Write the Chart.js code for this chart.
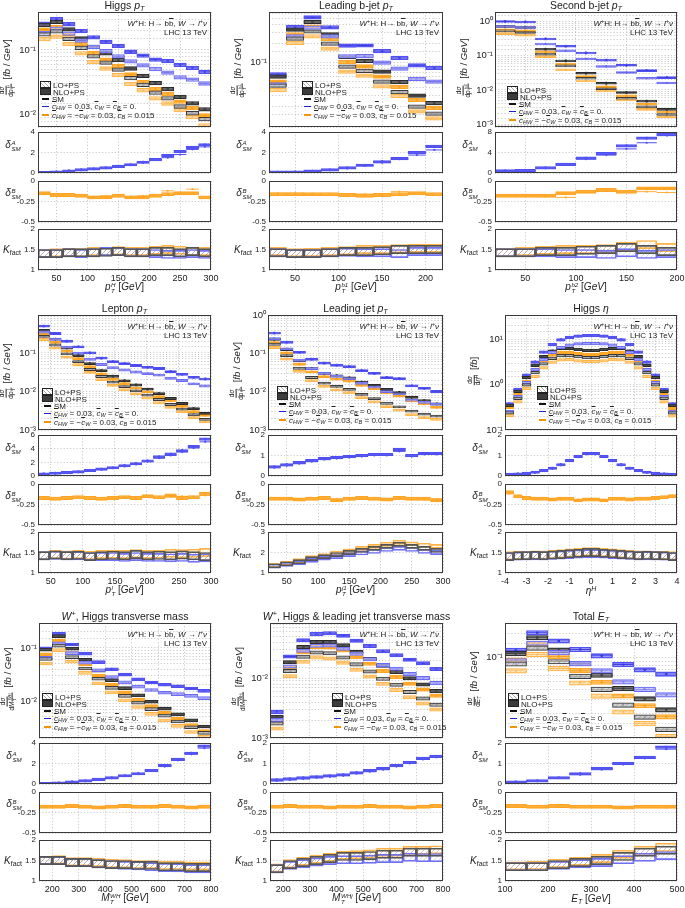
<!DOCTYPE html>
<html>
<head>
<meta charset="utf-8">
<script src="https://cdn.jsdelivr.net/npm/chart.js@4.4.1/dist/chart.umd.min.js"></script>
<style>
  body { margin: 0; background: #fff; width: 685px; height: 908px; position: relative; overflow: hidden;
         font-family: "Liberation Sans", Arial, sans-serif; color: #222; }
  canvas { position: absolute; }
  .t { position: absolute; white-space: nowrap; line-height: 1; }
  .title { font-size: 10.5px; }
  .xt { font-size: 10px; }
  .yt { font-size: 9.5px; }
  .ann { font-size: 8px; text-align: right; line-height: 8.6px; }
  .rl { font-size: 10px; }
  sub { font-size: 0.7em; vertical-align: -0.25em; line-height: 0; }
  sup { font-size: 0.7em; vertical-align: 0.45em; line-height: 0; }
  .ss { display: inline-block; font-size: 0.62em; line-height: 1; vertical-align: -0.45em; text-align: left; margin-left: 0.5px; }
  .ss span { display: block; }
  .ol { text-decoration: overline; font-style: italic; }
  .fr { display: inline-flex; flex-direction: column; align-items: center; font-size: 0.68em; vertical-align: middle; margin-right: 2px; line-height: 1.05; }
  .fr span:first-child { border-bottom: 0.7px solid #222; padding: 0 1px; }
  .lg { font-size: 8px; }
  .lg div { height: 7.4px; line-height: 7.4px; }
  .lg div.tall { height: 8.6px; line-height: 8.6px; }
  .sw { display: inline-block; width: 9px; height: 5px; margin-right: 2px; vertical-align: -0.5px; border: 1px solid #222; }
  .sw.lo { background: repeating-linear-gradient(45deg, #aaa 0 0.7px, #fff 0.7px 2.6px); }
  .sw.nlo { background: #3c3c3c; }
  .dash { display: inline-block; width: 7px; height: 1.6px; margin: 0 3px 0 2px; vertical-align: 2px; }
</style>
</head>
<body>
<script>
// ---- Higgs pT ----
const hpt_edges = [20, 40, 60, 80, 100, 120, 140, 160, 180, 200, 220, 240, 260, 280, 300];
const hpt_xticks = [50, 100, 150, 200, 250, 300];
const hpt_smNLO = [0.243, 0.272, 0.208, 0.151, 0.112, 0.089, 0.070, 0.052, 0.040, 0.031, 0.025, 0.019, 0.0151, 0.0122];
const hpt_smLO = [0.174, 0.194, 0.149, 0.108, 0.080, 0.064, 0.050, 0.037, 0.029, 0.022, 0.018, 0.0135, 0.0106, 0.0086];
const hpt_aNLO = [0.255, 0.299, 0.250, 0.196, 0.157, 0.134, 0.116, 0.094, 0.082, 0.071, 0.0675, 0.059, 0.053, 0.046];
const hpt_aLO = [0.183, 0.213, 0.179, 0.140, 0.112, 0.096, 0.080, 0.067, 0.058, 0.051, 0.045, 0.038, 0.035, 0.0305];
const hpt_bNLO = [0.207, 0.226, 0.173, 0.124, 0.090, 0.071, 0.057, 0.042, 0.032, 0.025, 0.021, 0.016, 0.0127, 0.0098];
const hpt_bLO = [0.148, 0.161, 0.124, 0.089, 0.065, 0.052, 0.041, 0.030, 0.024, 0.018, 0.015, 0.0119, 0.0093, 0.0069];
const hpt_dA_NLO = [0.05, 0.1, 0.2, 0.3, 0.4, 0.5, 0.65, 0.8, 1.05, 1.3, 1.7, 2.1, 2.5, 2.75];
const hpt_dA_LO = [0.05, 0.1, 0.2, 0.3, 0.4, 0.5, 0.6, 0.8, 1.0, 1.3, 1.5, 1.8, 2.3, 2.55];
const hpt_dAticks = [0, 2, 4];
const hpt_dB_NLO = [-0.15, -0.17, -0.17, -0.18, -0.2, -0.2, -0.18, -0.2, -0.2, -0.18, -0.16, -0.15, -0.15, -0.2];
const hpt_dB_LO = [-0.15, -0.17, -0.17, -0.18, -0.19, -0.18, -0.18, -0.19, -0.18, -0.17, -0.12, -0.14, -0.1, -0.2];
const hpt_kSM = [1.4, 1.4, 1.42, 1.42, 1.42, 1.43, 1.45, 1.42, 1.42, 1.45, 1.45, 1.42, 1.45, 1.42];
const hpt_kA = [1.4, 1.4, 1.42, 1.4, 1.42, 1.45, 1.45, 1.42, 1.42, 1.4, 1.38, 1.38, 1.4, 1.38];
const hpt_kB = [1.4, 1.42, 1.43, 1.42, 1.45, 1.45, 1.47, 1.45, 1.45, 1.48, 1.5, 1.48, 1.45, 1.45];

// ---- Leading b-jet pT ----
const b1_edges = [20, 40, 60, 80, 100, 120, 140, 160, 180, 200, 220];
const b1_xticks = [50, 100, 150, 200];
const b1_smNLO = [0.060, 0.333, 0.439, 0.278, 0.123, 0.106, 0.072, 0.049, 0.030, 0.0228];
const b1_smLO = [0.043, 0.24, 0.31, 0.2, 0.086, 0.074, 0.05, 0.034, 0.020, 0.0155];
const b1_aNLO = [0.065, 0.366, 0.518, 0.361, 0.185, 0.186, 0.151, 0.118, 0.090, 0.082];
const b1_aLO = [0.045, 0.259, 0.357, 0.26, 0.125, 0.126, 0.10, 0.080, 0.055, 0.050];
const b1_bNLO = [0.050, 0.28, 0.369, 0.234, 0.102, 0.087, 0.060, 0.041, 0.0255, 0.0192];
const b1_bLO = [0.0366, 0.204, 0.26, 0.166, 0.072, 0.062, 0.042, 0.0296, 0.0168, 0.013];
const b1_dA_NLO = [0.08, 0.1, 0.18, 0.3, 0.5, 0.75, 1.1, 1.4, 2.0, 2.6];
const b1_dA_LO = [0.05, 0.08, 0.15, 0.3, 0.45, 0.7, 1.0, 1.35, 1.75, 2.25];
const b1_dAticks = [0, 2, 4];
const b1_dB_NLO = [-0.16, -0.16, -0.16, -0.16, -0.17, -0.18, -0.17, -0.16, -0.15, -0.16];
const b1_dB_LO = [-0.15, -0.15, -0.16, -0.17, -0.16, -0.16, -0.16, -0.13, -0.16, -0.16];
const b1_kSM = [1.42, 1.4, 1.4, 1.42, 1.45, 1.45, 1.47, 1.5, 1.5, 1.5];
const b1_kA = [1.42, 1.4, 1.4, 1.42, 1.43, 1.42, 1.42, 1.4, 1.45, 1.45];
const b1_kB = [1.45, 1.42, 1.43, 1.45, 1.47, 1.5, 1.5, 1.52, 1.53, 1.53];

// ---- Second b-jet pT ----
const b2_edges = [20, 40, 60, 80, 100, 120, 140, 160, 180, 200];
const b2_xticks = [50, 100, 150, 200];
const b2_smNLO = [0.73, 0.68, 0.157, 0.071, 0.031, 0.0157, 0.0084, 0.0047, 0.0027];
const b2_smLO = [0.54, 0.485, 0.112, 0.051, 0.022, 0.0109, 0.0057, 0.0032, 0.00192];
const b2_aNLO = [1.02, 0.99, 0.314, 0.192, 0.121, 0.075, 0.053, 0.037, 0.023];
const b2_aLO = [0.73, 0.68, 0.224, 0.14, 0.081, 0.049, 0.0325, 0.022, 0.016];
const b2_bNLO = [0.58, 0.54, 0.131, 0.057, 0.0247, 0.0125, 0.0067, 0.0038, 0.00225];
const b2_bLO = [0.45, 0.405, 0.095, 0.039, 0.0184, 0.0094, 0.0051, 0.0027, 0.00164];
const b2_dA_NLO = [0.4, 0.45, 1.0, 1.7, 2.9, 3.8, 5.3, 6.8, 7.5];
const b2_dA_LO = [0.35, 0.4, 1.0, 1.75, 2.7, 3.5, 4.7, 5.9, 7.3];
const b2_dAticks = [0, 4, 8];
const b2_dB_NLO = [-0.18, -0.18, -0.18, -0.15, -0.13, -0.11, -0.13, -0.09, -0.09];
const b2_dB_LO = [-0.18, -0.18, -0.19, -0.2, -0.13, -0.12, -0.13, -0.13, -0.14];
const b2_kSM = [1.42, 1.42, 1.45, 1.45, 1.48, 1.5, 1.55, 1.5, 1.45];
const b2_kA = [1.42, 1.42, 1.42, 1.4, 1.4, 1.38, 1.42, 1.38, 1.4];
const b2_kB = [1.42, 1.45, 1.48, 1.5, 1.5, 1.52, 1.58, 1.62, 1.55];

// ---- Lepton pT ----
const lpt_edges = [30, 48, 66, 84, 102, 120, 138, 156, 174, 192, 210, 228, 246, 264, 282, 300];
const lpt_xticks = [50, 100, 150, 200, 250, 300];
const lpt_smNLO = [0.385, 0.23, 0.135, 0.085, 0.053, 0.035, 0.025, 0.019, 0.0148, 0.0115, 0.0088, 0.0066, 0.0049, 0.0036, 0.0027];
const lpt_smLO = [0.271, 0.162, 0.095, 0.060, 0.0373, 0.0246, 0.0176, 0.0134, 0.0104, 0.0081, 0.0062, 0.0046, 0.0035, 0.0025, 0.0019];
const lpt_aNLO = [0.50, 0.322, 0.2025, 0.1445, 0.1007, 0.0735, 0.060, 0.0532, 0.0474, 0.0426, 0.0396, 0.033, 0.0279, 0.0234, 0.0211];
const lpt_aLO = [0.352, 0.227, 0.1425, 0.099, 0.069, 0.0504, 0.0414, 0.0362, 0.0322, 0.0292, 0.0267, 0.0221, 0.0193, 0.0158, 0.0139];
const lpt_bNLO = [0.32, 0.189, 0.112, 0.0714, 0.044, 0.0287, 0.0208, 0.016, 0.0123, 0.0098, 0.0074, 0.0057, 0.0041, 0.003, 0.0024];
const lpt_bLO = [0.225, 0.134, 0.078, 0.0498, 0.0313, 0.0204, 0.0144, 0.0111, 0.0087, 0.0068, 0.0051, 0.0039, 0.003, 0.0021, 0.00163];
const lpt_dA_NLO = [0.3, 0.4, 0.5, 0.6, 0.8, 1.0, 1.2, 1.5, 1.8, 2.2, 2.8, 3.2, 3.7, 4.3, 5.4];
const lpt_dA_LO = [0.3, 0.4, 0.5, 0.6, 0.75, 0.95, 1.15, 1.4, 1.7, 2.1, 2.6, 3.0, 3.5, 4.1, 5.0];
const lpt_dAticks = [0, 2, 4, 6];
const lpt_dB_NLO = [-0.17, -0.18, -0.17, -0.16, -0.17, -0.18, -0.17, -0.16, -0.17, -0.15, -0.16, -0.14, -0.17, -0.16, -0.12];
const lpt_dB_LO = [-0.17, -0.17, -0.18, -0.17, -0.16, -0.17, -0.18, -0.17, -0.16, -0.16, -0.17, -0.16, -0.15, -0.17, -0.14];
const lpt_kSM = [1.42, 1.44, 1.42, 1.43, 1.4, 1.42, 1.43, 1.42, 1.45, 1.42, 1.43, 1.42, 1.44, 1.42, 1.4];
const lpt_kA = [1.42, 1.43, 1.42, 1.42, 1.4, 1.4, 1.4, 1.38, 1.4, 1.38, 1.38, 1.37, 1.38, 1.36, 1.37];
const lpt_kB = [1.42, 1.45, 1.44, 1.45, 1.43, 1.45, 1.46, 1.45, 1.47, 1.45, 1.46, 1.48, 1.47, 1.48, 1.5];

// ---- Leading jet pT ----
const j1_edges = [20, 40, 60, 80, 100, 120, 140, 160, 180, 200, 220, 240, 260, 280, 300];
const j1_xticks = [50, 100, 150, 200, 250, 300];
const j1_smNLO = [0.233, 0.126, 0.064, 0.040, 0.030, 0.026, 0.023, 0.0178, 0.0146, 0.0114, 0.0095, 0.0071, 0.0058, 0.0048];
const j1_smLO = [0.173, 0.087, 0.041, 0.0235, 0.0167, 0.0137, 0.0115, 0.0085, 0.0066, 0.005, 0.004, 0.0031, 0.0026, 0.0023];
const j1_aNLO = [0.338, 0.195, 0.106, 0.070, 0.0555, 0.049, 0.045, 0.0356, 0.030, 0.0234, 0.0219, 0.0142, 0.0122, 0.0101];
const j1_aLO = [0.242, 0.131, 0.066, 0.040, 0.030, 0.0253, 0.0219, 0.0166, 0.0132, 0.010, 0.0088, 0.006, 0.0053, 0.0047];
const j1_bNLO = [0.191, 0.103, 0.052, 0.033, 0.0246, 0.0213, 0.0189, 0.0146, 0.012, 0.0093, 0.0078, 0.0058, 0.0048, 0.0039];
const j1_bLO = [0.142, 0.071, 0.034, 0.0193, 0.0137, 0.0112, 0.0094, 0.007, 0.0054, 0.0041, 0.0033, 0.0025, 0.0021, 0.0019];
const j1_dA_NLO = [0.45, 0.55, 0.65, 0.75, 0.85, 0.9, 0.95, 1.0, 1.05, 1.05, 1.3, 1.0, 1.1, 1.1];
const j1_dA_LO = [0.4, 0.5, 0.6, 0.7, 0.8, 0.85, 0.9, 0.95, 1.0, 1.0, 1.2, 0.95, 1.05, 1.05];
const j1_dAticks = [0, 1, 2];
const j1_dB_NLO = [-0.18, -0.18, -0.19, -0.18, -0.17, -0.2, -0.18, -0.17, -0.18, -0.19, -0.17, -0.18, -0.18, -0.2];
const j1_dB_LO = [-0.17, -0.18, -0.18, -0.17, -0.18, -0.18, -0.19, -0.18, -0.17, -0.18, -0.18, -0.17, -0.19, -0.18];
const j1_kSM = [1.35, 1.45, 1.55, 1.7, 1.8, 1.9, 2.0, 2.1, 2.2, 2.3, 2.4, 2.3, 2.2, 2.1];
const j1_kA = [1.33, 1.42, 1.5, 1.62, 1.72, 1.8, 1.9, 1.98, 2.05, 2.15, 2.2, 2.15, 2.05, 2.0];
const j1_kB = [1.37, 1.48, 1.6, 1.75, 1.85, 1.97, 2.08, 2.2, 2.3, 2.4, 2.5, 2.42, 2.35, 2.3];
const j1_kticks = [1, 2, 3];

// ---- Higgs eta ----
const eta_edges = [-4, -3.6, -3.2, -2.8, -2.4, -2, -1.6, -1.2, -0.8, -0.4, 0, 0.4, 0.8, 1.2, 1.6, 2, 2.4, 2.8, 3.2, 3.6, 4];
const eta_xticks = [-4, -3, -2, -1, 0, 1, 2, 3, 4];
const eta_smNLO = [0.35, 0.72, 1.45, 2.7, 4.2, 5.6, 6.4, 6.4, 6.1, 5.8, 5.8, 6.1, 6.4, 6.4, 5.6, 4.2, 2.7, 1.45, 0.72, 0.35];
const eta_smLO = [0.24, 0.5, 1.0, 1.86, 2.9, 3.86, 4.41, 4.41, 4.2, 4.0, 4.0, 4.2, 4.41, 4.41, 3.86, 2.9, 1.86, 1.0, 0.5, 0.24];
const eta_aNLO = [0.378, 0.792, 1.64, 3.19, 5.29, 7.73, 9.92, 11.2, 11.9, 12.2, 12.2, 11.9, 11.2, 9.92, 7.73, 5.29, 3.19, 1.64, 0.792, 0.378];
const eta_aLO = [0.259, 0.55, 1.12, 2.18, 3.63, 5.25, 6.7, 7.59, 8.06, 8.2, 8.2, 8.06, 7.59, 6.7, 5.25, 3.63, 2.18, 1.12, 0.55, 0.259];
const eta_bNLO = [0.315, 0.612, 1.2, 2.21, 3.44, 4.54, 5.25, 5.25, 4.88, 4.7, 4.7, 4.88, 5.25, 5.25, 4.54, 3.44, 2.21, 1.2, 0.605, 0.298];
const eta_bLO = [0.211, 0.42, 0.83, 1.54, 2.38, 3.17, 3.57, 3.62, 3.4, 3.28, 3.28, 3.4, 3.62, 3.57, 3.17, 2.38, 1.54, 0.83, 0.42, 0.206];
const eta_dA_NLO = [0.08, 0.1, 0.13, 0.18, 0.26, 0.38, 0.55, 0.75, 0.95, 1.1, 1.1, 0.95, 0.75, 0.55, 0.38, 0.26, 0.18, 0.13, 0.1, 0.08];
const eta_dA_LO = [0.08, 0.1, 0.12, 0.17, 0.25, 0.36, 0.52, 0.72, 0.92, 1.05, 1.05, 0.92, 0.72, 0.52, 0.36, 0.25, 0.17, 0.12, 0.1, 0.08];
const eta_dAticks = [0, 1, 2];
const eta_dB_NLO = [-0.1, -0.15, -0.17, -0.18, -0.18, -0.19, -0.18, -0.18, -0.2, -0.19, -0.19, -0.2, -0.18, -0.18, -0.19, -0.18, -0.18, -0.17, -0.16, -0.15];
const eta_dB_LO = [-0.12, -0.16, -0.17, -0.17, -0.18, -0.18, -0.19, -0.18, -0.19, -0.18, -0.18, -0.19, -0.18, -0.19, -0.18, -0.18, -0.17, -0.17, -0.16, -0.14];
const eta_kSM = [1.4, 1.42, 1.42, 1.43, 1.42, 1.44, 1.45, 1.47, 1.48, 1.5, 1.5, 1.48, 1.47, 1.45, 1.44, 1.42, 1.43, 1.42, 1.42, 1.4];
const eta_kA = [1.4, 1.41, 1.42, 1.42, 1.42, 1.43, 1.44, 1.45, 1.46, 1.47, 1.47, 1.46, 1.45, 1.44, 1.43, 1.42, 1.42, 1.42, 1.41, 1.4];
const eta_kB = [1.42, 1.43, 1.43, 1.44, 1.44, 1.45, 1.47, 1.49, 1.5, 1.52, 1.52, 1.5, 1.49, 1.47, 1.45, 1.44, 1.44, 1.43, 1.43, 1.42];

// ---- W+, Higgs transverse mass ----
const mwh_edges = [150, 200, 250, 300, 350, 400, 450, 500, 550, 600, 650, 700, 750, 800];
const mwh_xticks = [200, 300, 400, 500, 600, 700, 800];
const mwh_smNLO = [0.093, 0.167, 0.097, 0.060, 0.0374, 0.0248, 0.0175, 0.0128, 0.0097, 0.0072, 0.0056, 0.0043, 0.0033];
const mwh_smLO = [0.062, 0.111, 0.067, 0.041, 0.0263, 0.0177, 0.0125, 0.0093, 0.0070, 0.0053, 0.0041, 0.0032, 0.0025];
const mwh_aNLO = [0.098, 0.184, 0.116, 0.078, 0.054, 0.0397, 0.0315, 0.0256, 0.0223, 0.0202, 0.019, 0.0172, 0.0155];
const mwh_aLO = [0.065, 0.122, 0.080, 0.053, 0.038, 0.0283, 0.0225, 0.0186, 0.0161, 0.0143, 0.0135, 0.0125, 0.0113];
const mwh_bNLO = [0.076, 0.137, 0.080, 0.049, 0.0303, 0.0203, 0.0145, 0.0105, 0.008, 0.006, 0.0046, 0.0035, 0.0027];
const mwh_bLO = [0.051, 0.091, 0.055, 0.034, 0.0216, 0.0145, 0.0103, 0.0077, 0.0057, 0.0043, 0.0034, 0.0026, 0.0021];
const mwh_dA_NLO = [0.05, 0.1, 0.2, 0.3, 0.45, 0.6, 0.8, 1.0, 1.3, 1.8, 2.4, 3.0, 3.7];
const mwh_dA_LO = [0.05, 0.1, 0.2, 0.3, 0.45, 0.6, 0.8, 1.0, 1.3, 1.7, 2.3, 2.9, 3.5];
const mwh_dAticks = [0, 2, 4];
const mwh_dB_NLO = [-0.18, -0.18, -0.17, -0.18, -0.19, -0.18, -0.17, -0.18, -0.18, -0.17, -0.18, -0.19, -0.18];
const mwh_dB_LO = [-0.17, -0.18, -0.18, -0.17, -0.18, -0.18, -0.18, -0.17, -0.19, -0.18, -0.17, -0.18, -0.17];
const mwh_kSM = [1.5, 1.5, 1.45, 1.45, 1.42, 1.4, 1.4, 1.38, 1.38, 1.35, 1.35, 1.33, 1.33];
const mwh_kA = [1.5, 1.5, 1.45, 1.45, 1.42, 1.4, 1.38, 1.37, 1.35, 1.33, 1.32, 1.3, 1.3];
const mwh_kB = [1.5, 1.52, 1.47, 1.47, 1.45, 1.43, 1.42, 1.4, 1.4, 1.38, 1.38, 1.37, 1.37];

// ---- W+, Higgs & leading jet transverse mass ----
const mwhj_edges = [150, 200, 250, 300, 350, 400, 450, 500, 550, 600, 650, 700, 750, 800];
const mwhj_xticks = [200, 300, 400, 500, 600, 700, 800];
const mwhj_smNLO = [0.00228, 0.0185, 0.0333, 0.0406, 0.0406, 0.0356, 0.0274, 0.0211, 0.0162, 0.0128, 0.0100, 0.0079, 0.0061];
const mwhj_smLO = [0.00175, 0.0132, 0.023, 0.027, 0.0262, 0.0223, 0.0171, 0.013, 0.0098, 0.0078, 0.0059, 0.0046, 0.0036];
const mwhj_aNLO = [0.00274, 0.0231, 0.0433, 0.0548, 0.0568, 0.0516, 0.0425, 0.0348, 0.0284, 0.0243, 0.0205, 0.0178, 0.0143];
const mwhj_aLO = [0.00201, 0.0158, 0.0288, 0.0351, 0.0354, 0.0312, 0.0257, 0.0208, 0.0167, 0.0144, 0.0118, 0.0101, 0.0083];
const mwhj_bNLO = [0.00187, 0.0154, 0.0273, 0.0333, 0.0329, 0.0292, 0.0225, 0.0175, 0.0133, 0.0105, 0.0081, 0.0065, 0.0051];
const mwhj_bLO = [0.00145, 0.0108, 0.0189, 0.0224, 0.0215, 0.0183, 0.0139, 0.0107, 0.0081, 0.0064, 0.0048, 0.0038, 0.003];
const mwhj_dA_NLO = [0.2, 0.25, 0.3, 0.35, 0.4, 0.45, 0.55, 0.65, 0.75, 0.9, 1.05, 1.25, 1.35];
const mwhj_dA_LO = [0.15, 0.2, 0.25, 0.3, 0.35, 0.4, 0.5, 0.6, 0.7, 0.85, 1.0, 1.2, 1.3];
const mwhj_dAticks = [0, 1, 2];
const mwhj_dB_NLO = [-0.18, -0.17, -0.18, -0.18, -0.19, -0.18, -0.18, -0.17, -0.18, -0.18, -0.19, -0.18, -0.17];
const mwhj_dB_LO = [-0.17, -0.18, -0.18, -0.17, -0.18, -0.18, -0.19, -0.18, -0.17, -0.18, -0.18, -0.17, -0.18];
const mwhj_kSM = [1.3, 1.4, 1.45, 1.5, 1.55, 1.6, 1.6, 1.62, 1.65, 1.65, 1.7, 1.7, 1.7];
const mwhj_kA = [1.3, 1.38, 1.42, 1.46, 1.5, 1.52, 1.52, 1.53, 1.55, 1.55, 1.58, 1.57, 1.57];
const mwhj_kB = [1.32, 1.42, 1.48, 1.53, 1.58, 1.63, 1.64, 1.66, 1.7, 1.7, 1.75, 1.75, 1.76];

// ---- Total ET ----
const et_edges = [100, 150, 200, 250, 300, 350, 400, 450, 500];
const et_xticks = [100, 200, 300, 400, 500];
const et_smNLO = [0.112, 0.177, 0.124, 0.084, 0.060, 0.0407, 0.0304, 0.0221];
const et_smLO = [0.083, 0.131, 0.0886, 0.058, 0.040, 0.0254, 0.0179, 0.0126];
const et_aNLO = [0.123, 0.204, 0.161, 0.126, 0.105, 0.0814, 0.070, 0.062];
const et_aLO = [0.091, 0.151, 0.115, 0.084, 0.068, 0.0495, 0.040, 0.034];
const et_bNLO = [0.093, 0.145, 0.103, 0.069, 0.049, 0.033, 0.0249, 0.0181];
const et_bLO = [0.068, 0.109, 0.0727, 0.048, 0.0328, 0.0208, 0.0149, 0.0102];
const et_dA_NLO = [0.1, 0.15, 0.3, 0.5, 0.75, 1.0, 1.3, 1.8];
const et_dA_LO = [0.1, 0.15, 0.3, 0.45, 0.7, 0.95, 1.25, 1.7];
const et_dAticks = [0, 1, 2];
const et_dB_NLO = [-0.17, -0.18, -0.17, -0.18, -0.18, -0.19, -0.18, -0.18];
const et_dB_LO = [-0.18, -0.17, -0.18, -0.17, -0.18, -0.18, -0.17, -0.19];
const et_kSM = [1.35, 1.35, 1.4, 1.45, 1.5, 1.6, 1.7, 1.75];
const et_kA = [1.35, 1.35, 1.38, 1.42, 1.45, 1.52, 1.58, 1.62];
const et_kB = [1.37, 1.38, 1.43, 1.48, 1.55, 1.65, 1.75, 1.82];

const dBticks = [-0.5, -0.25, 0];
const kticks = [1, 1.5, 2];

// scale-uncertainty half widths
const UNC_MAIN = 0.065;   // relative
const UNC_DB = 0.02;
const UNC_K = 0.1;

Chart.defaults.font.family = '"Liberation Sans", Arial, sans-serif';
Chart.defaults.font.size = 9;
Chart.defaults.color = '#222';
Chart.defaults.animation = false;
Chart.defaults.plugins.legend.display = false;
Chart.defaults.plugins.tooltip.enabled = false;

/* == small text helpers == */
const ss = (sup, sub) => `<span class="ss"><span>${sup}</span><span>${sub}</span></span>`;
const cb = (s) => `<span class="ol">c</span><sub><i>${s}</i></sub>`;
const it = (s) => `<i>${s}</i>`;
const GEV = ' [<i>GeV</i>]';
const FBGEV = '[<i>fb</i> / <i>GeV</i>]';

const panels = [
  { left: 38, right: 211, top: 12, xmin: 20, xmax: 300, xticks: hpt_xticks, ymin: 0.0065, ymax: 0.385, dAticks: hpt_dAticks, dAunc: 0.12, kticks, leg: [2, 73],
    title: 'Higgs ' + it('p') + '<sub><i>T</i></sub>', xt: it('p') + ss(it('H'), it('T')) + GEV, yt: 'd' + it('p') + ss('H', 'T'), unit: FBGEV,
    e: hpt_edges, sm: [hpt_smNLO, hpt_smLO], a: [hpt_aNLO, hpt_aLO], b: [hpt_bNLO, hpt_bLO], dA: [hpt_dA_NLO, hpt_dA_LO], dB: [hpt_dB_NLO, hpt_dB_LO], k: [hpt_kSM, hpt_kA, hpt_kB] },
  { left: 269, right: 443, top: 12, xmin: 20, xmax: 220, xticks: b1_xticks, ymin: 0.0095, ymax: 0.63, dAticks: b1_dAticks, dAunc: 0.12, kticks, leg: [33, 73],
    title: 'Leading b-jet ' + it('p') + '<sub><i>T</i></sub>', xt: it('p') + ss(it('b1'), it('T')) + GEV, yt: 'd' + it('p') + ss('b1', 'T'), unit: FBGEV,
    e: b1_edges, sm: [b1_smNLO, b1_smLO], a: [b1_aNLO, b1_aLO], b: [b1_bNLO, b1_bLO], dA: [b1_dA_NLO, b1_dA_LO], dB: [b1_dB_NLO, b1_dB_LO], k: [b1_kSM, b1_kA, b1_kB] },
  { left: 495, right: 677, top: 12, xmin: 20, xmax: 200, xticks: b2_xticks, ymin: 0.00082, ymax: 1.93, dAticks: b2_dAticks, dAunc: 0.25, kticks, leg: [12, 78],
    title: 'Second b-jet ' + it('p') + '<sub><i>T</i></sub>', xt: it('p') + ss(it('b2'), it('T')) + GEV, yt: 'd' + it('p') + ss('b2', 'T'), unit: FBGEV,
    e: b2_edges, sm: [b2_smNLO, b2_smLO], a: [b2_aNLO, b2_aLO], b: [b2_bNLO, b2_bLO], dA: [b2_dA_NLO, b2_dA_LO], dB: [b2_dB_NLO, b2_dB_LO], k: [b2_kSM, b2_kA, b2_kB] },
  { left: 38, right: 211, top: 315, xmin: 30, xmax: 300, xticks: lpt_xticks, ymin: 0.001, ymax: 0.97, dAticks: lpt_dAticks, dAunc: 0.18, kticks, leg: [4, 77],
    title: 'Lepton ' + it('p') + '<sub><i>T</i></sub>', xt: it('p') + ss(it('l'), it('T')) + GEV, yt: 'd' + it('p') + ss('l', 'T'), unit: FBGEV,
    e: lpt_edges, sm: [lpt_smNLO, lpt_smLO], a: [lpt_aNLO, lpt_aLO], b: [lpt_bNLO, lpt_bLO], dA: [lpt_dA_NLO, lpt_dA_LO], dB: [lpt_dB_NLO, lpt_dB_LO], k: [lpt_kSM, lpt_kA, lpt_kB] },
  { left: 268, right: 443, top: 315, xmin: 20, xmax: 300, xticks: j1_xticks, ymin: 0.001, ymax: 1.0, dAticks: j1_dAticks, dAunc: 0.06, kticks: j1_kticks, leg: [9, 75],
    title: 'Leading jet ' + it('p') + '<sub><i>T</i></sub>', xt: it('p') + ss(it('j1'), it('T')) + GEV, yt: 'd' + it('p') + ss('j1', 'T'), unit: FBGEV,
    e: j1_edges, sm: [j1_smNLO, j1_smLO], a: [j1_aNLO, j1_aLO], b: [j1_bNLO, j1_bLO], dA: [j1_dA_NLO, j1_dA_LO], dB: [j1_dB_NLO, j1_dB_LO], k: [j1_kSM, j1_kA, j1_kB] },
  { left: 505, right: 677, top: 315, xmin: -4, xmax: 4, xticks: eta_xticks, ymin: 0.1, ymax: 35, dAticks: eta_dAticks, dAunc: 0.06, kticks, leg: [32, 75],
    title: 'Higgs ' + it('η'), xt: it('η') + '<sup><i>H</i></sup>', yt: 'd' + it('η') + '<sup>H</sup>', unit: '[<i>fb</i>]',
    e: eta_edges, sm: [eta_smNLO, eta_smLO], a: [eta_aNLO, eta_aLO], b: [eta_bNLO, eta_bLO], dA: [eta_dA_NLO, eta_dA_LO], dB: [eta_dB_NLO, eta_dB_LO], k: [eta_kSM, eta_kA, eta_kB] },
  { left: 39, right: 211, top: 623, xmin: 150, xmax: 800, xticks: mwh_xticks, ymin: 0.002, ymax: 0.295, dAticks: mwh_dAticks, dAunc: 0.12, kticks, leg: [3, 74],
    title: it('W') + '<sup>+</sup>, Higgs transverse mass', xt: it('M') + ss(it('WH'), it('T')) + GEV, yt: 'd' + it('M') + ss('WH', 'T'), unit: FBGEV,
    e: mwh_edges, sm: [mwh_smNLO, mwh_smLO], a: [mwh_aNLO, mwh_aLO], b: [mwh_bNLO, mwh_bLO], dA: [mwh_dA_NLO, mwh_dA_LO], dB: [mwh_dB_NLO, mwh_dB_LO], k: [mwh_kSM, mwh_kA, mwh_kB] },
  { left: 270, right: 443, top: 623, xmin: 150, xmax: 800, xticks: mwhj_xticks, ymin: 0.001, ymax: 0.084, dAticks: mwhj_dAticks, dAunc: 0.06, kticks, leg: [62, 74],
    title: it('W') + '<sup>+</sup>, Higgs &amp; leading jet transverse mass', xt: it('M') + ss(it('WHj'), it('T')) + GEV, yt: 'd' + it('M') + ss('WHj', 'T'), unit: FBGEV,
    e: mwhj_edges, sm: [mwhj_smNLO, mwhj_smLO], a: [mwhj_aNLO, mwhj_aLO], b: [mwhj_bNLO, mwhj_bLO], dA: [mwhj_dA_NLO, mwhj_dA_LO], dB: [mwhj_dB_NLO, mwhj_dB_LO], k: [mwhj_kSM, mwhj_kA, mwhj_kB] },
  { left: 505, right: 677, top: 623, xmin: 100, xmax: 500, xticks: et_xticks, ymin: 0.0098, ymax: 0.27, dAticks: et_dAticks, dAunc: 0.06, kticks, leg: [3, 74],
    title: 'Total ' + it('E') + '<sub><i>T</i></sub>', xt: it('E') + '<sub><i>T</i></sub>' + GEV, yt: 'd' + it('E') + '<sub>T</sub>', unit: FBGEV,
    e: et_edges, sm: [et_smNLO, et_smLO], a: [et_aNLO, et_aLO], b: [et_bNLO, et_bLO], dA: [et_dA_NLO, et_dA_LO], dB: [et_dB_NLO, et_dB_LO], k: [et_kSM, et_kA, et_kB] },
];

/* == layout of the four stacked frames, relative to a panel's top == */
const SUB = { main: [0, 115], dA: [120, 161], dB: [169, 210], k: [217, 258] };
const YW = 34, PT = 7, PR = 14, PB = 6;

function hatch(line, bg) {
  const c = document.createElement('canvas');
  c.width = 5; c.height = 5;
  const g = c.getContext('2d');
  g.fillStyle = bg; g.fillRect(0, 0, 5, 5);
  g.strokeStyle = line; g.lineWidth = 0.7;
  g.beginPath();
  g.moveTo(0, 5); g.lineTo(5, 0);
  g.moveTo(-1, 1); g.lineTo(1, -1);
  g.moveTo(4, 6); g.lineTo(6, 4);
  g.stroke();
  return g.createPattern(c, 'repeat');
}

const COL = {
  sm: { line: '#111', nlo: 'rgba(120,120,120,0.45)', nloB: '#2a2a2a', lo: hatch('rgba(120,120,120,0.55)', 'rgba(255,255,255,0.6)'), loB: '#3a3a3a', k: hatch('rgba(120,120,120,0.45)', 'rgba(255,255,255,0)') },
  a: { line: '#1f1fd6', nlo: 'rgba(120,120,255,0.25)', nloB: '#5050f0', lo: hatch('rgba(110,110,245,0.45)', 'rgba(255,255,255,0.4)'), loB: '#6a6af5', k: hatch('rgba(120,120,245,0.4)', 'rgba(255,255,255,0)') },
  b: { line: '#f59300', nlo: 'rgba(255,180,60,0.35)', nloB: '#ffa526', lo: hatch('rgba(255,170,40,0.5)', 'rgba(255,255,255,0.4)'), loB: '#ffb445', k: hatch('rgba(255,175,60,0.45)', 'rgba(255,255,255,0)') },
};

const relBand = (vals, u) => vals.map((v) => [v * (1 - u), v * (1 + u)]);
const absBand = (vals, u) => vals.map((v) => [v - u, v + u]);

function boxSet(edges, bands, fill, border) {
  return {
    type: 'bar', grouped: false, barPercentage: 1, categoryPercentage: 1,
    data: bands.map((b, i) => ({ x: (edges[i] + edges[i + 1]) / 2, y: b })),
    backgroundColor: fill, borderColor: border, borderWidth: 1, borderSkipped: false,
  };
}

// horizontal bin-wide segment with a dot in the middle, one per bin
function lineSet(edges, vals, color, dot) {
  const data = [];
  vals.forEach((v, i) => {
    const mid = (edges[i] + edges[i + 1]) / 2;
    data.push({ x: edges[i], y: v }, { x: mid, y: v }, { x: edges[i + 1], y: v }, { x: edges[i + 1], y: null });
  });
  return {
    type: 'line', data, borderColor: color, borderWidth: 1, spanGaps: false, fill: false, tension: 0,
    pointRadius: (c) => (c.dataIndex % 4 === 1 ? dot : 0), pointBackgroundColor: color, pointBorderWidth: 0,
  };
}

const framePlugin = {
  id: 'frame',
  afterDraw(chart) {
    const { ctx, chartArea: a } = chart;
    ctx.save();
    ctx.strokeStyle = '#3a3a3a';
    ctx.lineWidth = 1;
    ctx.strokeRect(a.left + 0.5, a.top + 0.5, a.right - a.left - 1, a.bottom - a.top - 1);
    ctx.restore();
  },
};

const SUPS = { '-': '⁻', 0: '⁰', 1: '¹', 2: '²', 3: '³', 4: '⁴', 5: '⁵', 6: '⁶', 7: '⁷', 8: '⁸', 9: '⁹' };
const pow10Label = (v) => {
  const l = Math.log10(v), r = Math.round(l);
  if (Math.abs(l - r) > 1e-6) return '';
  return '10' + String(r).split('').map((ch) => SUPS[ch]).join('');
};
const fixedTicks = (vals) => (s) => { s.ticks = vals.map((v) => ({ value: v })); };

function addCanvas(x, y, w, h) {
  const c = document.createElement('canvas');
  c.width = w; c.height = h;
  c.style.left = x + 'px'; c.style.top = y + 'px';
  c.style.width = w + 'px'; c.style.height = h + 'px';
  document.body.appendChild(c);
  return c;
}

function makeChart(p, part, datasets, yScale) {
  const top = p.top + SUB[part][0], bot = p.top + SUB[part][1];
  const xh = part === 'k' ? 14 : 0;
  const c = addCanvas(p.left - YW, top - PT, YW + (p.right - p.left) + PR, PT + (bot - top) + xh + PB);
  const gridStyle = { color: '#b4b4b4', lineWidth: 0.7, drawTicks: false };
  new Chart(c, {
    type: 'bar',
    data: { datasets },
    options: {
      responsive: false,
      layout: { padding: { top: PT, right: PR, bottom: PB, left: 0 } },
      scales: {
        x: {
          type: 'linear', min: p.xmin, max: p.xmax, offset: false, bounds: 'data',
          grid: { ...gridStyle, offset: false },
          border: { display: false, dash: [1.2, 2] },
          afterBuildTicks: fixedTicks(p.xticks),
          ticks: { display: part === 'k', autoSkip: false, maxRotation: 0, padding: 3, font: { size: 9 }, callback: (v) => String(v) },
          afterFit: (s) => { s.height = xh; s.paddingLeft = 0; s.paddingRight = 0; },
        },
        y: {
          ...yScale,
          grid: gridStyle,
          border: { display: false, dash: [1.2, 2] },
          afterFit: (s) => { s.width = YW; s.paddingTop = 0; s.paddingBottom = 0; },
        },
      },
    },
    plugins: [framePlugin],
  });
}

function linearY(ticks) {
  return {
    type: 'linear', min: ticks[0], max: ticks[ticks.length - 1],
    afterBuildTicks: fixedTicks(ticks),
    ticks: { autoSkip: false, padding: 3, font: { size: 8 }, callback: (v) => String(v) },
  };
}

function put(html, x, y, cls, ax, ay, rot) {
  const d = document.createElement('div');
  d.className = 't ' + cls;
  d.innerHTML = html;
  d.style.left = x + 'px';
  d.style.top = y + 'px';
  d.style.transform = `translate(${-ax * 100}%, ${-ay * 100}%)` + (rot ? ` rotate(${rot}deg)` : '');
  document.body.appendChild(d);
}

const legendHtml =
  '<div class="lg">' +
  '<div><span class="sw lo"></span>LO+PS</div>' +
  '<div><span class="sw nlo"></span>NLO+PS</div>' +
  '<div><span class="dash" style="background:#111"></span>SM</div>' +
  `<div class="tall"><span class="dash" style="background:#1f1fd6"></span>${cb('HW')} = 0.03, ${cb('W')} = ${cb('B')} = 0.</div>` +
  `<div class="tall"><span class="dash" style="background:#f59300"></span>${cb('HW')} = −${cb('W')} = 0.03, ${cb('B')} = 0.015</div>` +
  '</div>';

const annHtml = '<i>W</i><sup>+</sup>H: H→ b<span style="text-decoration:overline">b</span>, <i>W</i> → <i>l</i><sup>+</sup><i>ν</i><br>LHC 13 TeV';

panels.forEach((p) => {
  const e = p.e;
  // main distribution (log scale)
  makeChart(p, 'main', [
    boxSet(e, relBand(p.sm[1], UNC_MAIN), COL.sm.lo, COL.sm.loB),
    boxSet(e, relBand(p.a[1], UNC_MAIN), COL.a.lo, COL.a.loB),
    boxSet(e, relBand(p.b[1], UNC_MAIN), COL.b.lo, COL.b.loB),
    boxSet(e, relBand(p.sm[0], UNC_MAIN), COL.sm.nlo, COL.sm.nloB),
    boxSet(e, relBand(p.a[0], UNC_MAIN), COL.a.nlo, COL.a.nloB),
    boxSet(e, relBand(p.b[0], UNC_MAIN), COL.b.nlo, COL.b.nloB),
    lineSet(e, p.sm[1], COL.sm.line, 1.1),
    lineSet(e, p.a[1], COL.a.line, 1.1),
    lineSet(e, p.b[1], COL.b.line, 1.1),
    lineSet(e, p.sm[0], COL.sm.line, 1.4),
    lineSet(e, p.a[0], COL.a.line, 1.4),
    lineSet(e, p.b[0], COL.b.line, 1.4),
  ], {
    type: 'logarithmic', min: p.ymin, max: p.ymax,
    ticks: { autoSkip: false, padding: 2, font: { size: 9.5 }, callback: pow10Label },
  });
  // delta A
  makeChart(p, 'dA', [
    boxSet(e, absBand(p.dA[0], p.dAunc), COL.a.nlo, COL.a.nloB),
    lineSet(e, p.dA[1], '#5050ee', 1.1),
    lineSet(e, p.dA[0], COL.a.line, 1.4),
  ], linearY(p.dAticks));
  // delta B
  makeChart(p, 'dB', [
    boxSet(e, absBand(p.dB[0], UNC_DB), COL.b.nlo, COL.b.nloB),
    lineSet(e, p.dB[1], '#ffad3a', 1.1),
    lineSet(e, p.dB[0], COL.b.line, 1.4),
  ], linearY(dBticks));
  // K factor
  makeChart(p, 'k', [
    boxSet(e, absBand(p.k[0], UNC_K), COL.sm.k, '#555'),
    boxSet(e, absBand(p.k[1], UNC_K), COL.a.k, '#7070f5'),
    boxSet(e, absBand(p.k[2], UNC_K), COL.b.k, '#ffb448'),
  ], linearY(p.kticks));

  // texts
  const cx = (p.left + p.right) / 2;
  put(p.title, cx, p.top - 7, 'title', 0.5, 0.5);
  put(annHtml, p.right - 4, p.top + 8, 'ann', 1, 0);
  const lg = document.createElement('div');
  lg.className = 't';
  lg.style.left = (p.left + p.leg[0]) + 'px';
  lg.style.top = (p.top + p.leg[1] - 4) + 'px';
  lg.innerHTML = legendHtml;
  document.body.appendChild(lg);
  put(`<span class="fr"><span>d<i>σ</i></span><span>${p.yt}</span></span> ${p.unit}`, p.left - 31, p.top + 56, 'yt', 0.5, 0.5, -90);
  put(it('δ') + ss(it('A'), it('SM')), p.left - 25, p.top + SUB.dA[0] + 14, 'rl', 0.5, 0.5);
  put(it('δ') + ss(it('B'), it('SM')), p.left - 25, p.top + SUB.dB[0] + 13, 'rl', 0.5, 0.5);
  put(it('K') + '<sub>fact</sub>', p.left - 26, p.top + SUB.k[0] + 21, 'rl', 0.5, 0.5);
  put(p.xt, cx, p.top + SUB.k[1] + 18, 'xt', 0.5, 0.5);
});
</script>
</body>
</html>
